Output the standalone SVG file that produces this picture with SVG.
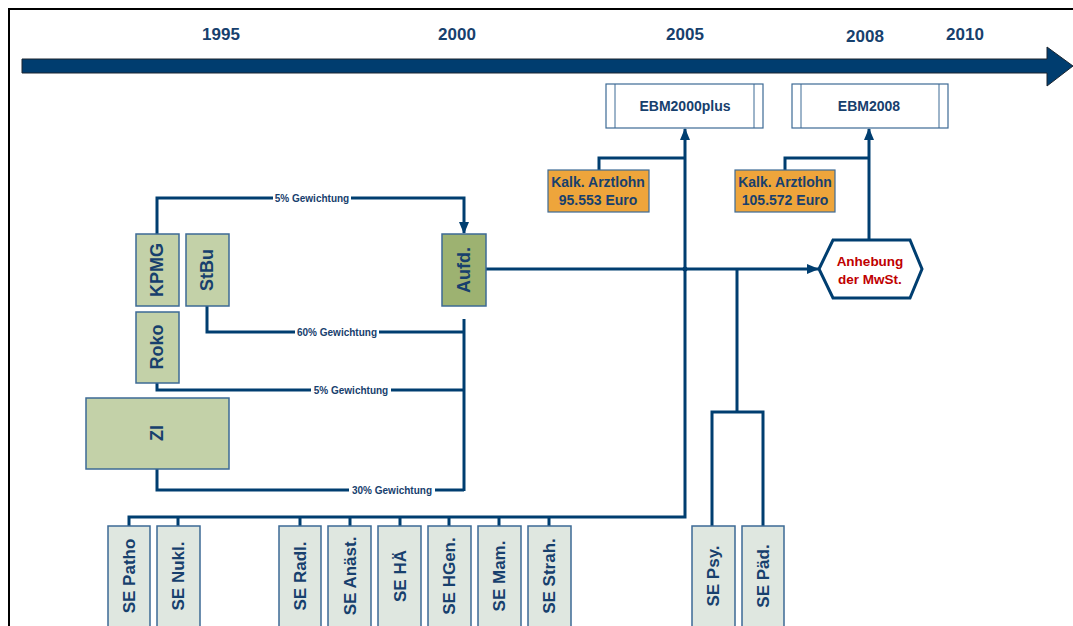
<svg xmlns="http://www.w3.org/2000/svg" width="1073" height="626" viewBox="0 0 1073 626">
<defs>
<marker id="ah" markerWidth="12" markerHeight="10" refX="11" refY="5" orient="auto" markerUnits="userSpaceOnUse">
<path d="M0,0 L12,5 L0,10 Z" fill="#003e70"/>
</marker>
<style>
.yr{font-family:"Liberation Sans",Arial,sans-serif;font-weight:bold;font-size:17px;fill:#17406d;text-anchor:middle}
.ln{fill:none;stroke:#003e70;stroke-width:3}
.lbl{font-family:"Liberation Sans",Arial,sans-serif;font-weight:bold;font-size:10px;fill:#17406d;text-anchor:middle;dominant-baseline:central}
.lblbg{fill:#ffffff}
.g1{fill:#c3d1a8;stroke:#3d6a95;stroke-width:1.5}
.g2{fill:#9db271;stroke:#3d6a95;stroke-width:1.5}
.se{fill:#dfe7e0;stroke:#3d6a95;stroke-width:1.5}
.nt{font-family:"Liberation Sans",Arial,sans-serif;font-weight:bold;font-size:18px;fill:#17406d;text-anchor:middle;dominant-baseline:central}
.st{font-family:"Liberation Sans",Arial,sans-serif;font-weight:bold;font-size:17px;fill:#17406d;text-anchor:middle;dominant-baseline:central}
.bt{font-family:"Liberation Sans",Arial,sans-serif;font-weight:bold;font-size:14px;fill:#17406d;text-anchor:middle}
.ebm{fill:#ffffff;stroke:#3d6a95;stroke-width:1.2}
.or{fill:#eea53b;stroke:#3d6a95;stroke-width:1.2}
</style>
</defs>
<rect x="9" y="9" width="1100" height="700" fill="none" stroke="#000" stroke-width="2"/>
<g id="timeline">
<path d="M22,59 L1047,59 L1047,47 L1073,66 L1047,86 L1047,73 L22,73 Z" fill="#003d6f" stroke="#1a2530" stroke-width="1"/>
<text class="yr" x="221" y="40">1995</text>
<text class="yr" x="457" y="40">2000</text>
<text class="yr" x="685" y="40">2005</text>
<text class="yr" x="865" y="42">2008</text>
<text class="yr" x="965" y="40">2010</text>
</g>
<g id="connectors">
<path class="ln" d="M157,234 V198 H464 V233" marker-end="url(#ah)"/>
<path class="ln" d="M207,306 V332 H464"/>
<path class="ln" d="M157,383 V390 H464"/>
<path class="ln" d="M157,469 V490 H464"/>
<path class="ln" d="M464,319 V491"/>
<path class="ln" d="M486,269 H818" marker-end="url(#ah)"/>
<path class="ln" d="M129,526 V517 H685 V129" marker-end="url(#ah)"/>
<path class="ln" d="M178,526 V517 M300,526 V517 M350,526 V517 M400,526 V517 M449,526 V517 M499,526 V517 M549,526 V517"/>
<path class="ln" d="M599,170 V158 H685"/>
<path class="ln" d="M785,170 V158 H869"/>
<path class="ln" d="M869,240 V129" marker-end="url(#ah)"/>
<path class="ln" d="M737,269 V412 M712,527 V412 H763 V527"/>
<circle cx="685" cy="269" r="2.5" fill="#003e70"/>
<rect class="lblbg" x="273" y="192" width="78" height="12"/>
<text class="lbl" x="312" y="198">5% Gewichtung</text>
<rect class="lblbg" x="295" y="326" width="84" height="12"/>
<text class="lbl" x="337" y="332">60% Gewichtung</text>
<rect class="lblbg" x="311" y="384" width="80" height="12"/>
<text class="lbl" x="351" y="390">5% Gewichtung</text>
<rect class="lblbg" x="349" y="484" width="86" height="12"/>
<text class="lbl" x="392" y="490">30% Gewichtung</text>
</g>
<g id="n-kpmg"><rect class="g1" x="136" y="234" width="43" height="72"/><text class="nt" transform="translate(157,270) rotate(-90)">KPMG</text></g>
<g id="n-stbu"><rect class="g1" x="186" y="234" width="43" height="72"/><text class="nt" transform="translate(207,270) rotate(-90)">StBu</text></g>
<g id="n-roko"><rect class="g1" x="136" y="312" width="43" height="71"/><text class="nt" transform="translate(157,347) rotate(-90)">Roko</text></g>
<g id="n-zi"><rect class="g1" x="86" y="398" width="143" height="71"/><text class="nt" transform="translate(157,433) rotate(-90)">ZI</text></g>
<g id="n-aufd"><rect class="g2" x="442" y="234" width="44" height="72"/><text class="nt" transform="translate(464,270) rotate(-90)">Aufd.</text></g>
<g id="n-ebm2000"><rect class="ebm" x="606" y="84" width="157" height="44"/><line x1="615" y1="84" x2="615" y2="128" stroke="#3d6a95" stroke-width="1"/><line x1="754" y1="84" x2="754" y2="128" stroke="#3d6a95" stroke-width="1"/><text class="bt" x="685" y="111">EBM2000plus</text></g>
<g id="n-ebm2008"><rect class="ebm" x="792" y="84" width="156" height="44"/><line x1="801" y1="84" x2="801" y2="128" stroke="#3d6a95" stroke-width="1"/><line x1="939" y1="84" x2="939" y2="128" stroke="#3d6a95" stroke-width="1"/><text class="bt" x="869" y="111">EBM2008</text></g>
<g id="n-kalk1"><rect class="or" x="548" y="170" width="101" height="42"/><text class="bt" x="598" y="187">Kalk. Arztlohn</text><text class="bt" x="598" y="205">95.553 Euro</text></g>
<g id="n-kalk2"><rect class="or" x="735" y="170" width="100" height="42"/><text class="bt" x="785" y="187">Kalk. Arztlohn</text><text class="bt" x="785" y="205">105.572 Euro</text></g>
<g id="n-mwst"><path d="M819,269 L833,240 L910,240 L922,269 L910,298 L833,298 Z" fill="#ffffff" stroke="#003e70" stroke-width="3"/><text class="bt" x="870" y="266" style="fill:#c00000;font-size:13.5px">Anhebung</text><text class="bt" x="870" y="284" style="fill:#c00000;font-size:13.5px">der MwSt.</text></g>
<g id="n-patho"><rect class="se" x="108" y="526" width="42" height="110"/><text class="st" transform="translate(129,576) rotate(-90)">SE Patho</text></g>
<g id="n-nukl"><rect class="se" x="157" y="526" width="43" height="110"/><text class="st" transform="translate(178,576) rotate(-90)">SE Nukl.</text></g>
<g id="n-radl"><rect class="se" x="279" y="526" width="42" height="110"/><text class="st" transform="translate(300,576) rotate(-90)">SE Radl.</text></g>
<g id="n-anaest"><rect class="se" x="328" y="526" width="43" height="110"/><text class="st" transform="translate(350,576) rotate(-90)">SE Anäst.</text></g>
<g id="n-ha"><rect class="se" x="378" y="526" width="43" height="110"/><text class="st" transform="translate(400,576) rotate(-90)">SE HÄ</text></g>
<g id="n-hgen"><rect class="se" x="428" y="526" width="43" height="110"/><text class="st" transform="translate(449,576) rotate(-90)">SE HGen.</text></g>
<g id="n-mam"><rect class="se" x="478" y="526" width="43" height="110"/><text class="st" transform="translate(499,576) rotate(-90)">SE Mam.</text></g>
<g id="n-strah"><rect class="se" x="528" y="526" width="43" height="110"/><text class="st" transform="translate(549,576) rotate(-90)">SE Strah.</text></g>
<g id="n-psy"><rect class="se" x="692" y="526" width="43" height="110"/><text class="st" transform="translate(713,576) rotate(-90)">SE Psy.</text></g>
<g id="n-paed"><rect class="se" x="742" y="526" width="42" height="110"/><text class="st" transform="translate(763,576) rotate(-90)">SE Päd.</text></g>
</svg>
